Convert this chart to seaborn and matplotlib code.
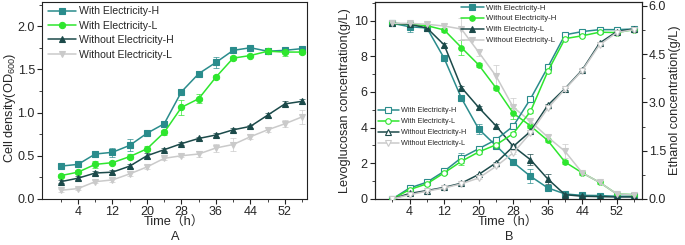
import numpy as np
import pandas as pd
import matplotlib
matplotlib.use("Agg")
import matplotlib.pyplot as plt
import seaborn as sns
from matplotlib.ticker import MultipleLocator, FixedLocator

sns.set_theme(style="ticks")
plt.rcParams['font.family'] = ['Liberation Sans', 'Noto Sans CJK SC', 'DejaVu Sans']
plt.rcParams['mathtext.fontset'] = 'custom'
plt.rcParams['mathtext.rm'] = 'Liberation Sans'
plt.rcParams['mathtext.it'] = 'Liberation Sans'

time = [0, 4, 8, 12, 16, 20, 24, 28, 32, 36, 40, 44, 48, 52, 56]

# Panel A: cell density (OD600)
od_we_h = [0.38, 0.40, 0.52, 0.54, 0.62, 0.76, 0.87, 1.24, 1.45, 1.58, 1.72, 1.75, 1.71, 1.72, 1.74]
od_we_l = [0.27, 0.31, 0.40, 0.42, 0.49, 0.58, 0.77, 1.06, 1.16, 1.41, 1.63, 1.66, 1.71, 1.70, 1.70]
od_wo_h = [0.20, 0.24, 0.30, 0.31, 0.38, 0.50, 0.57, 0.64, 0.70, 0.74, 0.80, 0.84, 0.97, 1.10, 1.13]
od_wo_l = [0.10, 0.12, 0.20, 0.22, 0.29, 0.37, 0.47, 0.50, 0.52, 0.59, 0.63, 0.72, 0.80, 0.87, 0.95]
od_err_we_h = [0.02, 0.02, 0.03, 0.05, 0.07, 0.02, 0.03, 0.03, 0.03, 0.06, 0.02, 0.02, 0.02, 0.03, 0.02]
od_err_we_l = [0.02, 0.02, 0.04, 0.02, 0.03, 0.03, 0.03, 0.09, 0.05, 0.02, 0.02, 0.02, 0.02, 0.05, 0.02]
od_err_wo_h = [0.02, 0.02, 0.02, 0.02, 0.02, 0.03, 0.02, 0.02, 0.02, 0.02, 0.02, 0.02, 0.02, 0.03, 0.03]
od_err_wo_l = [0.02, 0.02, 0.02, 0.02, 0.03, 0.02, 0.02, 0.02, 0.03, 0.05, 0.07, 0.03, 0.03, 0.04, 0.08]

# Panel B: levoglucosan (left axis)
lg_we_h = [9.85, 9.66, 9.59, 7.89, 5.65, 3.92, 2.99, 2.05, 1.27, 0.62, 0.28, 0.20, 0.19, 0.15, 0.15]
lg_wo_h = [9.85, 9.80, 9.72, 9.48, 8.49, 7.52, 6.23, 4.81, 4.10, 3.28, 2.07, 1.46, 0.93, 0.28, 0.24]
lg_we_l = [9.85, 9.80, 9.59, 8.64, 6.25, 5.13, 4.10, 2.95, 2.20, 1.12, 0.24, 0.15, 0.13, 0.11, 0.11]
lg_wo_l = [9.85, 9.85, 9.80, 9.70, 9.53, 8.23, 6.90, 5.15, 4.35, 3.47, 2.67, 1.46, 0.93, 0.28, 0.24]
lg_err_we_h = [0.1, 0.3, 0.1, 0.1, 0.1, 0.3, 0.1, 0.1, 0.4, 0.1, 0.1, 0.1, 0.1, 0.1, 0.1]
lg_err_wo_h = [0.1, 0.1, 0.1, 0.1, 0.4, 0.1, 0.1, 0.3, 0.1, 0.1, 0.1, 0.1, 0.1, 0.1, 0.1]
lg_err_we_l = [0.1, 0.1, 0.1, 0.1, 0.1, 0.1, 0.1, 0.1, 0.3, 0.3, 0.1, 0.1, 0.1, 0.1, 0.1]
lg_err_wo_l = [0.1, 0.1, 0.1, 0.1, 0.6, 0.2, 0.6, 0.5, 0.1, 0.1, 0.4, 0.1, 0.1, 0.1, 0.1]

# Panel B: ethanol (right axis)
et_we_h = [0.00, 0.34, 0.52, 0.86, 1.28, 1.56, 1.84, 2.26, 3.11, 4.09, 5.10, 5.20, 5.26, 5.26, 5.28]
et_we_l = [0.00, 0.29, 0.47, 0.81, 1.17, 1.46, 1.68, 2.03, 2.72, 3.96, 4.98, 5.07, 5.18, 5.17, 5.26]
et_wo_h = [0.00, 0.17, 0.26, 0.36, 0.49, 0.76, 1.12, 1.63, 2.10, 2.91, 3.43, 4.01, 4.84, 5.20, 5.28]
et_wo_l = [0.00, 0.13, 0.24, 0.34, 0.47, 0.65, 1.01, 1.43, 2.05, 2.82, 3.41, 3.99, 4.79, 5.17, 5.26]
et_err_we_h = [0.02, 0.03, 0.03, 0.05, 0.15, 0.05, 0.05, 0.05, 0.05, 0.05, 0.05, 0.05, 0.05, 0.05, 0.05]
et_err_we_l = [0.02, 0.03, 0.03, 0.05, 0.10, 0.05, 0.05, 0.05, 0.05, 0.05, 0.05, 0.05, 0.05, 0.05, 0.05]
et_err_wo_h = [0.02, 0.02, 0.02, 0.02, 0.02, 0.03, 0.03, 0.03, 0.03, 0.03, 0.03, 0.03, 0.03, 0.05, 0.03]
et_err_wo_l = [0.02, 0.02, 0.02, 0.02, 0.02, 0.03, 0.03, 0.03, 0.03, 0.03, 0.03, 0.03, 0.03, 0.05, 0.03]

labels_a = ["With Electricity-H", "With Electricity-L", "Without Electricity-H", "Without Electricity-L"]
labels_b_top = ["With Electricity-H", "Without Electricity-H", "With Electricity-L", "Without Electricity-L"]
labels_b_mid = ["With Electricity-H", "With Electricity-L", "Without Electricity-H", "Without Electricity-L"]

C_TEAL = "#2a8c8c"
C_GREEN = "#2ee62e"
C_DARK = "#1c4a4a"
C_GRAY = "#cacaca"
colors = [C_TEAL, C_GREEN, C_DARK, C_GRAY]
markers = ["s", "o", "^", "v"]

fig = plt.figure(figsize=(6.85, 2.45), dpi=100)
axA = fig.add_axes([0.061, 0.188, 0.387, 0.804])
axB = fig.add_axes([0.547, 0.188, 0.390, 0.804])
axB2 = axB.twinx()


def draw(ax, ys, errs, labels, filled=True, ms=4.2, lw=1.1):
    for y, e, lab, c, m in zip(ys, errs, labels, colors, markers):
        ax.errorbar(time, y, yerr=e, fmt='none', ecolor=c, elinewidth=0.7,
                    capsize=2, capthick=0.7, alpha=0.7, zorder=2)
        sns.lineplot(x=time, y=y, ax=ax, color=c, marker=m, markersize=ms,
                     linewidth=lw, label=lab, markeredgecolor=c,
                     markerfacecolor=(c if filled else "white"),
                     markeredgewidth=0.8, zorder=3)


draw(axA, [od_we_h, od_we_l, od_wo_h, od_wo_l],
     [od_err_we_h, od_err_we_l, od_err_wo_h, od_err_wo_l], labels_a, ms=4.5)
draw(axB, [lg_we_h, lg_wo_h, lg_we_l, lg_wo_l],
     [lg_err_we_h, lg_err_wo_h, lg_err_we_l, lg_err_wo_l], labels_b_top, ms=4.0)
draw(axB2, [et_we_h, et_we_l, et_wo_h, et_wo_l],
     [et_err_we_h, et_err_we_l, et_err_wo_h, et_err_wo_l], labels_b_mid,
     filled=False, ms=4.0)

tick_fs = 9.0
lab_fs = 9.2

# Panel A formatting
axA.set_xlim(-4.4, 57.1)
axA.set_ylim(0, 2.28)
axA.xaxis.set_major_locator(FixedLocator([4, 12, 20, 28, 36, 44, 52]))
axA.xaxis.set_minor_locator(FixedLocator([0, 8, 16, 24, 32, 40, 48, 56]))
axA.yaxis.set_major_locator(FixedLocator([0.0, 0.5, 1.0, 1.5, 2.0]))
axA.yaxis.set_minor_locator(MultipleLocator(0.25))
axA.set_yticklabels(["0.0", "0.5", "1.0", "1.5", "2.0"])
axA.set_xlabel("Time（h）", fontsize=lab_fs, labelpad=-1)
axA.set_ylabel("Cell density(OD$_{\\mathregular{600}}$)", fontsize=lab_fs)
axA.yaxis.set_label_coords(-0.09, 0.46)
axA.legend(loc="upper left", frameon=False, fontsize=7.6, handlelength=2.6,
           handletextpad=0.3, labelspacing=0.42, borderaxespad=0.2,
           bbox_to_anchor=(0.0, 1.01))

# Panel B formatting
axB.set_xlim(-4.1, 57.8)
axB.set_ylim(0, 11.05)
axB2.set_ylim(0, 6.12)
axB.xaxis.set_major_locator(FixedLocator([4, 12, 20, 28, 36, 44, 52]))
axB.xaxis.set_minor_locator(FixedLocator([0, 8, 16, 24, 32, 40, 48, 56]))
axB.yaxis.set_major_locator(MultipleLocator(2))
axB.yaxis.set_minor_locator(MultipleLocator(1))
axB2.yaxis.set_major_locator(FixedLocator([0, 1.5, 3.0, 4.5, 6.0]))
axB2.yaxis.set_minor_locator(MultipleLocator(0.75))
axB2.set_yticklabels(["0.0", "1.5", "3.0", "4.5", "6.0"])
axB.set_xlabel("Time（h）", fontsize=lab_fs, labelpad=-1)
axB.set_ylabel("Levoglucosan concentration(g/L)", fontsize=lab_fs, labelpad=2)
axB2.set_ylabel("Ethanol concentration(g/L)", fontsize=lab_fs, labelpad=2)
axB.legend(loc="upper left", frameon=False, fontsize=5.6, handlelength=3.0,
           handletextpad=0.3, labelspacing=0.45, borderaxespad=0.0,
           bbox_to_anchor=(0.31, 1.005))
axB2.legend(loc="upper left", frameon=False, fontsize=5.2, handlelength=3.0,
            handletextpad=0.3, labelspacing=0.55, borderaxespad=0.0,
            bbox_to_anchor=(0.0, 0.48))

for ax in (axA, axB, axB2):
    for sp in ax.spines.values():
        sp.set_visible(True)
        sp.set_linewidth(0.8)
        sp.set_color("#222222")
    ax.tick_params(which="major", length=3.5, width=0.8, labelsize=tick_fs, pad=1.5,
                   color="#222222")
    ax.tick_params(which="minor", length=2, width=0.6, color="#222222")
    ax.grid(False)

axA.tick_params(top=False, right=False)
axB.tick_params(top=False, right=False)

fig.text(175 / 685, 1 - 237 / 245, "A", ha="center", va="center", fontsize=lab_fs)
fig.text(509 / 685, 1 - 237 / 245, "B", ha="center", va="center", fontsize=lab_fs)

fig.savefig("out.png", dpi=100, facecolor="white")
